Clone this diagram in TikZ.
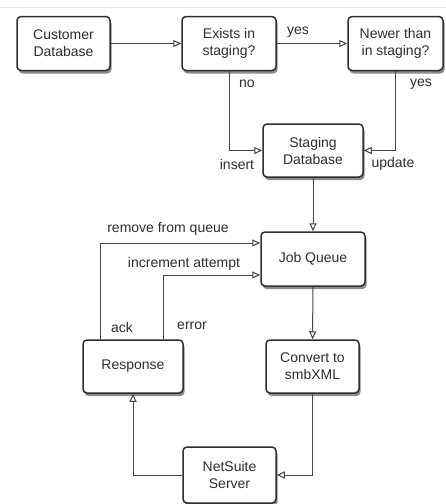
\documentclass[tikz,border=0pt]{standalone}
\usepackage{fontspec}
\setmainfont{Liberation Sans}
\usetikzlibrary{arrows.meta,shadows,calc}
\definecolor{boxline}{HTML}{2E2E2E}
\definecolor{conn}{HTML}{444444}
\definecolor{txt}{HTML}{2E2E2E}
\tikzset{
  box/.style={draw=boxline, line width=1.5pt, rounded corners=4pt, fill=white,
    minimum width=#1, minimum height=54pt, align=center, inner sep=2pt,
    font=\fontsize{14}{17}\selectfont, text=txt,
    drop shadow={shadow xshift=1.5pt, shadow yshift=-3pt, opacity=0.45, fill=black}},
  conn/.style={draw=conn, line width=1pt, -{Triangle[open, length=8pt, width=7pt, fill=white]}},
  lbl/.style={font=\fontsize{14}{17}\selectfont, text=txt, inner sep=0pt}
}
\begin{document}
\begin{tikzpicture}[x=1pt, y=-1pt]
\useasboundingbox (0,0) rectangle (446,504);
\fill[white] (0,0) rectangle (446,504);
\draw[black!8, line width=0.8pt] (0,7) -- (446,7);

\node[box=93pt] (cust) at (63.5,43.5) {Customer\\Database};
\node[box=94pt] (exists) at (229,43.5) {Exists in\\staging?};
\node[box=95pt] (newer) at (395.5,43.5) {Newer than\\in staging?};
\node[box=100pt, minimum height=53pt] (staging) at (313,150.5) {Staging\\Database};
\node[box=104pt] (jq) at (313,259) {Job Queue};
\node[box=93pt, minimum height=53pt] (conv) at (312.5,366.5) {Convert to\\smbXML};
\node[box=100pt, minimum height=53pt] (resp) at (133,366.5) {Response};
\node[box=93pt, minimum height=56pt] (ns) at (229.5,475) {NetSuite\\Server};

\coordinate (ackstart) at (100,340);
\coordinate (errstart) at (163,340);

\draw[conn] (cust) -- (exists);
\draw[conn] (exists) -- (newer);
\draw[conn] (exists.south) |- (staging.west);
\draw[conn] (newer.south) |- (staging.east);
\draw[conn] (staging) -- (jq);
\draw[conn] (jq) -- (conv);
\draw[conn] (conv.south) |- (ns.east);
\draw[conn] (ns.west) -| (resp.south);
\draw[conn] (ackstart) |- ([yshift=16pt]jq.west);
\draw[conn] (errstart) |- ([yshift=-16pt]jq.west);

\node[lbl] (lyes1) at (298,32) {yes};
\node[lbl] (lno) at (247,84) {no};
\node[lbl] (lyes2) at (421,84) {yes};
\node[lbl] (linsert) at (237,164) {insert};
\node[lbl] (lupdate) at (393,164) {update};
\node[lbl] (lremove) at (168,229) {remove from queue};
\node[lbl] (lincr) at (184,264) {increment attempt};
\node[lbl] (lack) at (122,327) {ack};
\node[lbl] (lerror) at (192,326) {error};
\end{tikzpicture}
\end{document}
